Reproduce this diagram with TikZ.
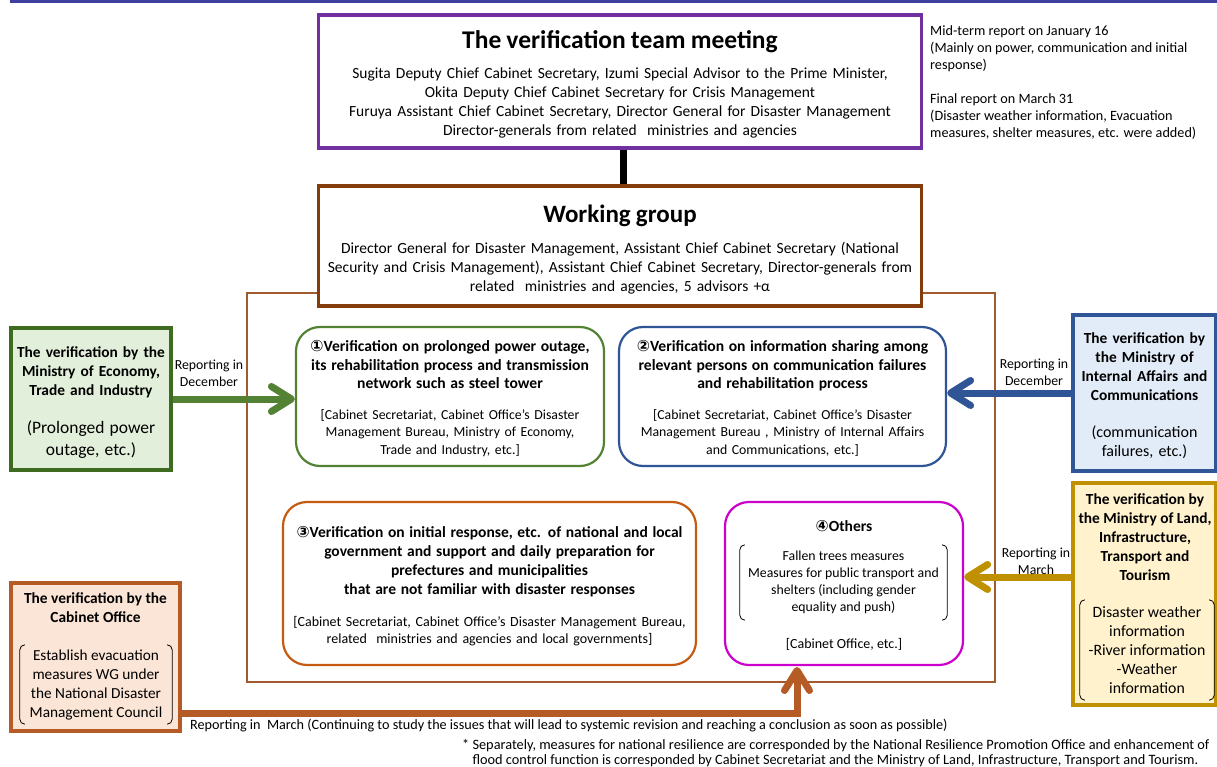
\documentclass[tikz,border=0pt]{standalone}
\usepackage{fontspec}
\setmainfont{Carlito}
\newfontfamily\circfont{DejaVu Sans}
\usetikzlibrary{arrows.meta}
\definecolor{topblue}{RGB}{63,63,160}
\definecolor{meetpurple}{RGB}{112,48,160}
\definecolor{wgbrown}{RGB}{132,60,12}
\definecolor{framebrown}{RGB}{160,90,45}
\definecolor{powergreen}{RGB}{84,130,53}
\definecolor{darkgreen}{RGB}{62,107,31}
\definecolor{lightgreen}{RGB}{226,239,218}
\definecolor{commblue}{RGB}{47,85,151}
\definecolor{lightblue}{RGB}{226,236,248}
\definecolor{resporange}{RGB}{197,90,17}
\definecolor{othersmagenta}{RGB}{204,0,204}
\definecolor{landgold}{RGB}{191,144,0}
\definecolor{lightgold}{RGB}{255,242,204}
\definecolor{caobrown}{RGB}{181,91,37}
\definecolor{lightpeach}{RGB}{251,229,214}
\newcommand{\fs}[2]{\fontsize{#1}{#2}\selectfont}
\newcommand{\circnum}[1]{{\circfont\bfseries #1}}
% cuts the depth of a node text, so that it sits lower in its box
\newcommand{\sinktext}[1]{\par\kern-#1\hrule height 0pt}
% round brackets round a named node
\newcommand{\parens}[1]{
  \draw[line width=0.8pt,rounded corners=5pt]
    ([xshift=5pt]#1.north west) -- (#1.north west) -- (#1.south west) -- ([xshift=5pt]#1.south west);
  \draw[line width=0.8pt,rounded corners=5pt]
    ([xshift=-5pt]#1.north east) -- (#1.north east) -- (#1.south east) -- ([xshift=-5pt]#1.south east);}

\begin{document}
\begin{tikzpicture}[x=1pt,y=-1pt,
    box/.style={draw,fill=white,line width=3.5pt,align=center,inner sep=0pt,font=\fs{15.5}{19}},
    topic/.style={draw,fill=white,line width=2.2pt,rounded corners=24pt,align=center,inner sep=0pt,font=\fs{13.8}{17.5}},
    side/.style={draw,line width=3.5pt,align=center,inner sep=0pt,font=\fs{15.4}{19}},
    note/.style={align=center,inner sep=0pt,font=\fs{14.2}{17}},
    report/.style={-{Straight Barb[length=20pt,width=25pt,round]},line width=7pt}]
  \useasboundingbox (0,0) rectangle (1217,767);
  \draw[topblue,line width=3pt] (10,1.5) -- (1217,1.5);
  \draw[framebrown,line width=1.3pt] (247,293) rectangle (995,682);

  % upper boxes
  \node[box,draw=meetpurple,minimum width=603pt,minimum height=133pt,text width=594pt]
      (meeting) at (620,81.5)
      {{\fs{25.5}{28}\bfseries The verification team meeting\par}\vspace{11pt}
       Sugita Deputy Chief Cabinet Secretary, Izumi Special Advisor to the Prime Minister,\\
       Okita Deputy Chief Cabinet Secretary for Crisis Management\\
       Furuya Assistant Chief Cabinet Secretary, Director General for Disaster Management\\
       Director-generals from related\ \ ministries and agencies\sinktext{5pt}};
  \node[box,draw=wgbrown,minimum width=603pt,minimum height=120pt,text width=594pt]
      (wg) at (620,246)
      {{\fs{25}{28}\bfseries Working group\par}\vspace{12pt}
       Director General for Disaster Management, Assistant Chief Cabinet Secretary (National\\
       Security and Crisis Management), Assistant Chief Cabinet Secretary, Director-generals from\\
       related\ \ ministries and agencies, 5 advisors +α\sinktext{8pt}};
  \draw[line width=7pt] ([xshift=3pt]meeting.south) -- ([xshift=3pt]meeting.south |- wg.north);
  \node[note,anchor=north west,align=left] (reports) at (930,25)
      {Mid-term report on January 16\\
       (Mainly on power, communication and initial\\
       response)\\[17pt]
       Final report on March 31\\
       (Disaster weather information, Evacuation\\
       measures, shelter measures, etc. were added)};

  % verification topics
  \node[topic,draw=powergreen,minimum width=308pt,minimum height=139pt,text width=302pt]
      (v1) at (450,396.5)
      {{\fs{15.6}{18.5}\bfseries\circnum{①}Verification on prolonged power outage,\\
        its rehabilitation process and transmission\\
        network such as steel tower\par}\vspace{13pt}
       [Cabinet Secretariat, Cabinet Office's Disaster\\
       Management Bureau, Ministry of Economy,\\
       Trade and Industry, etc.]\sinktext{4pt}};
  \node[topic,draw=commblue,minimum width=327pt,minimum height=139pt,text width=320pt]
      (v2) at (782.5,396.5)
      {{\fs{15.6}{18.5}\bfseries\circnum{②}Verification on information sharing among\\
        relevant persons on communication failures\\
        and rehabilitation process\par}\vspace{13pt}
       [Cabinet Secretariat, Cabinet Office's Disaster\\
       Management Bureau , Ministry of Internal Affairs\\
       and Communications, etc.]\sinktext{4pt}};
  \node[topic,draw=resporange,minimum width=413pt,minimum height=163pt,text width=405pt,font=\fs{14}{17}]
      (v3) at (489.5,583.5)
      {{\fs{15.5}{19}\bfseries\circnum{③}Verification on initial response, etc. of national and local\\
        government and support and daily preparation for\\
        prefectures and municipalities\\
        that are not familiar with disaster responses\par}\vspace{15pt}
       [Cabinet Secretariat, Cabinet Office's Disaster Management Bureau,\\
       related\ \ ministries and agencies and local governments]\sinktext{5pt}};
  \node[topic,draw=othersmagenta,minimum width=238pt,minimum height=163pt] (v4) at (844,583.5) {};
  \node[note,font=\fs{15.5}{19}\bfseries] (v4title) at (844,526) {\circnum{④}Others};
  \node[note,font=\fs{13.8}{17},minimum width=207pt,minimum height=75pt] (v4list) at (843.5,582.5)
      {Fallen trees measures\\Measures for public transport and\\shelters (including gender\\equality and push)};
  \parens{v4list}
  \node[note,font=\fs{14}{17}] (v4who) at (844,644) {[Cabinet Office, etc.]};

  % verifications by ministries
  \node[side,draw=darkgreen,fill=lightgreen,minimum width=160pt,minimum height=142pt,text width=156pt]
      (meti) at (91,399)
      {{\bfseries The verification by the\\Ministry of Economy,\\Trade and Industry\par}\vspace{16.5pt}
       {\fs{17.5}{22}(Prolonged power\\outage, etc.)\par}\sinktext{7pt}};
  \node[side,draw=commblue,fill=lightblue,minimum width=143pt,minimum height=156pt,text width=140pt]
      (mic) at (1144.5,393)
      {{\bfseries The verification by\\the Ministry of\\Internal Affairs and\\Communications\par}\vspace{18pt}
       {\fs{16}{19}(communication\\failures, etc.)\par}\sinktext{6pt}};
  \node[side,draw=landgold,fill=lightgold,minimum width=143pt,minimum height=222pt] (mlit) at (1144.5,594) {};
  \node[note,font=\fs{15.4}{19}\bfseries] (mlittitle) at (1145,537)
      {The verification by\\the Ministry of Land,\\Infrastructure,\\Transport and\\Tourism};
  \node[note,font=\fs{15.8}{19},minimum width=134pt,minimum height=100pt] (mlitlist) at (1147,650)
      {Disaster weather\\information\\-River information\\-Weather\\information};
  \parens{mlitlist}
  \node[side,draw=caobrown,fill=lightpeach,minimum width=169pt,minimum height=148pt] (cao) at (95.5,657) {};
  \node[note,font=\fs{15.4}{19}\bfseries] (caotitle) at (95.5,608) {The verification by the\\Cabinet Office};
  \node[note,font=\fs{15.3}{19},minimum width=152pt,minimum height=79pt] (caolist) at (96,684.5)
      {Establish evacuation\\measures WG under\\the National Disaster\\Management Council};
  \parens{caolist}

  % reporting arrows
  \coordinate (mlitout) at (1073,577);
  \coordinate (caoout) at (180,713);
  \coordinate (v4in) at (797,667);
  \draw[report,powergreen] (meti.east) -- (meti.east -| v1.west);
  \draw[report,commblue] (mic.west) -- (mic.west -| v2.east);
  \draw[report,landgold] (mlitout) -- (mlitout -| v4.east);
  \draw[report,caobrown] (caoout) -| (v4in);
  \node[note,font=\fs{13.8}{17}] (repmeti) at (209,373) {Reporting in\\December};
  \node[note,font=\fs{13.8}{17}] (repmic) at (1034,372) {Reporting in\\December};
  \node[note,font=\fs{13.8}{17}] (repmlit) at (1036,561) {Reporting in\\March};
  \node[note,anchor=west] (repcao) at (190,726)
      {Reporting in\ \ March (Continuing to study the issues that will lead to systemic revision and reaching a conclusion as soon as possible)};
  \node[note,anchor=north west,align=left,font=\fs{14.3}{15.5}] (footnote) at (462,739)
      {* Separately, measures for national resilience are corresponded by the National Resilience Promotion Office and enhancement of\\
       \phantom{* }flood control function is corresponded by Cabinet Secretariat and the Ministry of Land, Infrastructure, Transport and Tourism.};
\end{tikzpicture}
\end{document}
